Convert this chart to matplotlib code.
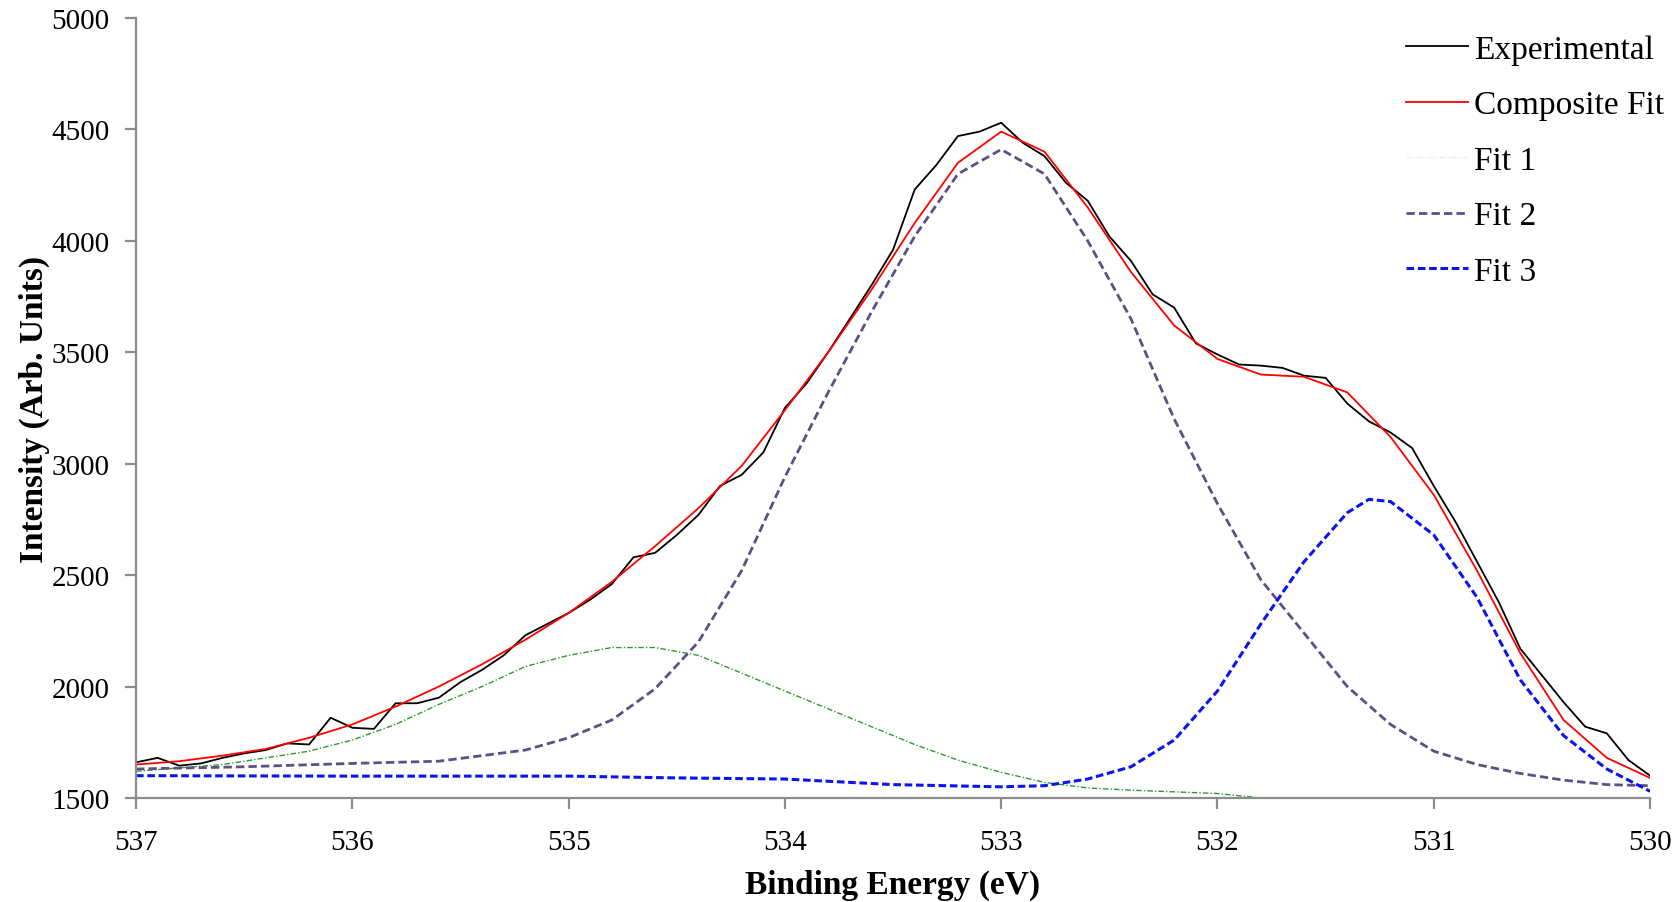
import numpy as np
import matplotlib
matplotlib.use("Agg")
import matplotlib.pyplot as plt

plt.rcParams['font.family'] = ['Liberation Serif', 'DejaVu Serif']

# Experimental spectrum, 0.1 eV steps from 537.0 down to 530.0
exp_energy = np.round(np.arange(537.0, 529.95, -0.1), 1)
exp_counts = [1660, 1680, 1645, 1655, 1680, 1700, 1715, 1745, 1740, 1860,
              1815, 1810, 1925, 1925, 1950, 2020, 2075, 2140, 2230, 2280,
              2330, 2390, 2460, 2580, 2600, 2680, 2770, 2900, 2950, 3050,
              3250, 3360, 3500, 3650, 3800, 3960, 4230, 4340, 4470, 4490,
              4530, 4440, 4380, 4260, 4180, 4020, 3910, 3760, 3700, 3540,
              3490, 3445, 3440, 3430, 3395, 3385, 3270, 3190, 3140, 3070,
              2900, 2740, 2560, 2380, 2170, 2050, 1930, 1820, 1790, 1670,
              1600]

# Composite fit, 0.2 eV steps
comp_energy = np.round(np.arange(537.0, 529.95, -0.2), 1)
comp_counts = [1650, 1665, 1690, 1720, 1770, 1830, 1910, 2000, 2100, 2210,
               2330, 2470, 2630, 2800, 2990, 3240, 3500, 3780, 4080, 4350,
               4490, 4400, 4150, 3860, 3620, 3470, 3400, 3390, 3320, 3120,
               2860, 2520, 2150, 1850, 1680, 1590]

fit1_energy = [537.0, 536.6, 536.2, 536.0, 535.8, 535.6, 535.4, 535.2, 535.0,
               534.8, 534.6, 534.4, 534.2, 534.0, 533.8, 533.6, 533.4, 533.2,
               533.0, 532.8, 532.6, 532.4, 532.0, 531.8, 531.4, 530.0]
fit1_counts = [1620, 1650, 1710, 1760, 1830, 1920, 2000, 2090, 2140,
               2175, 2175, 2140, 2060, 1980, 1900, 1820, 1740, 1670,
               1615, 1570, 1545, 1535, 1520, 1500, 1500, 1500]

fit2_energy = [537.0, 536.5, 536.0, 535.6, 535.4, 535.2, 535.0, 534.8, 534.6,
               534.4, 534.2, 534.0, 533.8, 533.6, 533.4, 533.2, 533.0, 532.8,
               532.6, 532.4, 532.2, 532.0, 531.8, 531.6, 531.4, 531.2, 531.0,
               530.8, 530.6, 530.4, 530.2, 530.0]
fit2_counts = [1630, 1640, 1655, 1665, 1690, 1715, 1770, 1850, 1990,
               2200, 2520, 2940, 3320, 3680, 4020, 4300, 4410, 4300,
               4000, 3650, 3200, 2820, 2480, 2240, 2000, 1830, 1710,
               1650, 1610, 1580, 1560, 1555]

fit3_energy = [537.0, 536.0, 535.0, 534.5, 534.0, 533.5, 533.0, 532.8, 532.6,
               532.4, 532.2, 532.0, 531.8, 531.6, 531.4, 531.3, 531.2, 531.0,
               530.8, 530.6, 530.4, 530.2, 530.0]
fit3_counts = [1600, 1598, 1598, 1590, 1585, 1560, 1550, 1555, 1585,
               1640, 1760, 1980, 2280, 2560, 2780, 2840, 2830, 2680,
               2400, 2030, 1780, 1630, 1530]

fig = plt.figure(figsize=(16.73, 9.03), dpi=100)
ax = fig.add_axes([0.0813, 0.1152, 0.905, 0.8638])

ax.plot(exp_energy, exp_counts, color='black', lw=1.3, label='Experimental')
ax.plot(comp_energy, comp_counts, color='red', lw=1.3, label='Composite Fit')
ax.plot(fit1_energy, fit1_counts, color='#2e9a2e', lw=1.0, ls=(0, (4, 1.5, 1, 1.5)),
        label='Fit 1')
ax.plot(fit2_energy, fit2_counts, color='#5e4f85', lw=2.0, ls=(0, (3, 1.5)),
        label='Fit 2')
ax.plot(fit3_energy, fit3_counts, color='#0a14f0', lw=2.2, ls=(0, (2.5, 1.2)),
        label='Fit 3')

ax.set_xlim(537, 530)
ax.set_ylim(1500, 5000)
ax.set_xticks([537, 536, 535, 534, 533, 532, 531, 530])
ax.set_yticks(range(1500, 5001, 500))

for s in ['top', 'right']:
    ax.spines[s].set_visible(False)
for s in ['left', 'bottom']:
    ax.spines[s].set_color('#8c8c8c')
    ax.spines[s].set_linewidth(1.6)
ax.tick_params(axis='both', colors='#8c8c8c', width=1.6, length=8,
               labelcolor='black', labelsize=21)
ax.tick_params(axis='y', pad=11)
ax.tick_params(axis='x', pad=14)

ax.set_xlabel('Binding Energy (eV)', fontsize=24, fontweight='bold', labelpad=10)
ax.set_ylabel('Intensity (Arb. Units)', fontsize=24, fontweight='bold', labelpad=1)

leg = ax.legend(loc='upper left', bbox_to_anchor=(0.839, 0.979), frameon=False,
                fontsize=24, handlelength=1.85, handletextpad=0.18,
                labelspacing=0.75, borderpad=0, borderaxespad=0)
leg.get_lines()[2].set_color('#eeeeee')

fig.savefig('out.png', dpi=100)
